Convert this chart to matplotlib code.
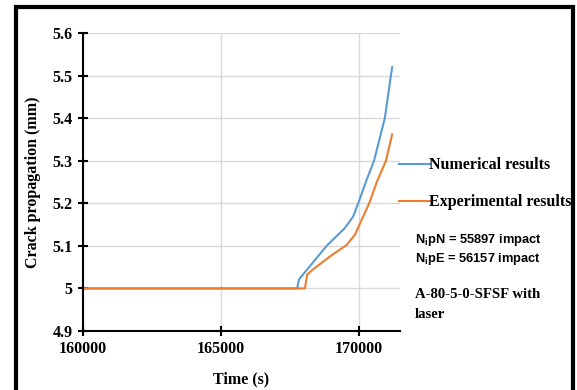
import matplotlib
matplotlib.use("Agg")
import matplotlib.pyplot as plt
from matplotlib.patches import Rectangle

# Data
num_t = [160000, 167764, 167826, 168830, 169493, 169793, 169975, 170280, 170550, 170940, 171160, 171207]
num_y = [5.0, 5.0, 5.021, 5.1, 5.142, 5.169, 5.2, 5.255, 5.3, 5.4, 5.5, 5.52]
exp_t = [160000, 168043, 168127, 168345, 168949, 169554, 169855, 170373, 170650, 170980, 171207]
exp_y = [5.0, 5.0, 5.033, 5.045, 5.075, 5.102, 5.126, 5.2, 5.25, 5.3, 5.362]
x_ticks = [160000, 165000, 170000]
y_ticks = [4.9, 5.0, 5.1, 5.2, 5.3, 5.4, 5.5, 5.6]
y_tick_labels = ["4.9", "5", "5.1", "5.2", "5.3", "5.4", "5.5", "5.6"]

serif = "Liberation Serif"
fig = plt.figure(figsize=(5.77, 3.90), dpi=100)
ax = fig.add_axes([83/577, 1-331/390, (400-83)/577, (331-33)/390])

ax.plot(num_t, num_y, color="#5B9BD5", lw=1.5, label="Numerical results", solid_joinstyle="round")
ax.plot(exp_t, exp_y, color="#ED7D31", lw=1.5, label="Experimental results", solid_joinstyle="round")

ax.set_xlim(160000, 171490)
ax.set_ylim(4.9, 5.6)
ax.set_xticks(x_ticks)
ax.set_xticklabels([str(t) for t in x_ticks])
ax.set_yticks(y_ticks)
ax.set_yticklabels(y_tick_labels)
ax.grid(True, color="#D9D9D9", lw=1)
ax.set_axisbelow(True)
for s in ["top", "right"]:
    ax.spines[s].set_visible(False)
for s in ["left", "bottom"]:
    ax.spines[s].set_linewidth(1.5)
    ax.spines[s].set_color("black")
ax.tick_params(direction="inout", length=7, width=1.5, colors="black", labelsize=11.5, pad=4)
for lab in ax.get_xticklabels() + ax.get_yticklabels():
    lab.set_fontfamily(serif)
    lab.set_fontweight("bold")
ax.set_xlabel("Time (s)", fontfamily=serif, fontweight="bold", fontsize=11.5, labelpad=10)
ax.set_ylabel("Crack propagation (mm)", fontfamily=serif, fontweight="bold", fontsize=11.5, labelpad=8)

leg = fig.legend(loc="upper left", bbox_to_anchor=(393/577, 1-151/390), frameon=False,
                 prop={"family": serif, "weight": "bold", "size": 11.5},
                 handlelength=1.9, handletextpad=-0.05, labelspacing=1.3, borderaxespad=0)

fig.text(415/577, 1-240/390, "N$_\\mathregular{i}$pN = 55897 impact", fontfamily="Liberation Sans",
         fontweight="bold", fontsize=9.3, va="center")
fig.text(415/577, 1-259/390, "N$_\\mathregular{i}$pE = 56157 impact", fontfamily="Liberation Sans",
         fontweight="bold", fontsize=9.3, va="center")
fig.text(415/577, 1-295/390, "A-80-5-0-SFSF with", fontfamily=serif,
         fontweight="bold", fontsize=10.6, va="center")
fig.text(415/577, 1-314/390, "laser", fontfamily=serif,
         fontweight="bold", fontsize=10.6, va="center")

# outer frame
fig.patches.append(Rectangle((15.5/577, -0.01), (573-15.5)/577, (1 - 6.5/390) + 0.01,
                             transform=fig.transFigure, fill=False, lw=3, ec="black"))

fig.savefig("out.png", dpi=100)
